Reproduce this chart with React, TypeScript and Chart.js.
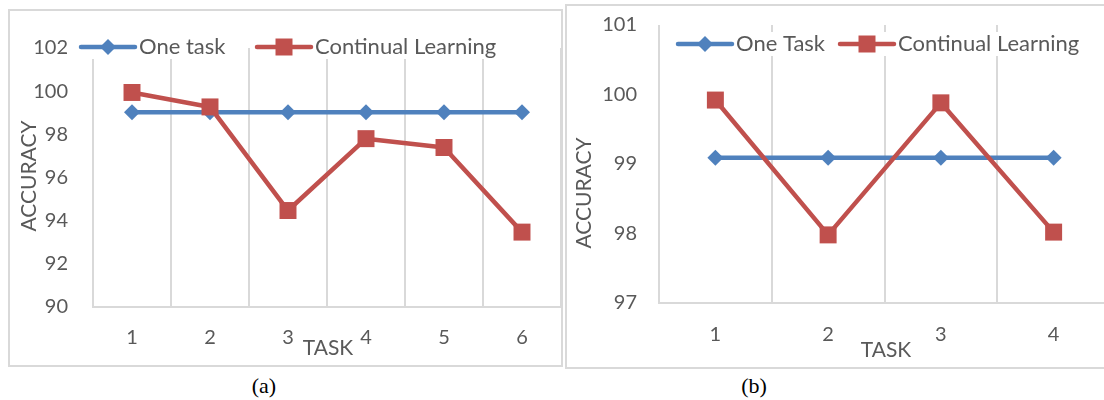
import React, { useEffect, useRef } from 'react';
import { Chart, registerables } from 'chart.js';

Chart.register(...registerables);

// ---------- data ----------
const tasksA = ['1', '2', '3', '4', '5', '6'];
const oneTaskA = [99.02, 99.02, 99.02, 99.02, 99.02, 99.02];
const continualA = [99.94, 99.27, 94.47, 97.8, 97.39, 93.47];
const yTicksA = [90, 92, 94, 96, 98, 100, 102];
const legendA = ['One task', 'Continual Learning'];

const tasksB = ['1', '2', '3', '4'];
const oneTaskB = [99.09, 99.09, 99.09, 99.09];
const continualB = [99.92, 97.98, 99.88, 98.02];
const yTicksB = [97, 98, 99, 100, 101];
const legendB = ['One Task', 'Continual Learning'];

const yTitle = 'ACCURACY';
const xTitle = 'TASK';
const captions = ['(a)', '(b)'];

// ---------- style ----------
const FONT = 'Lato, "Open Sans", sans-serif';
const TEXT = '#595959';
const BLUE = '#4F81BD';
const RED = '#C0504D';
const GRID = '#D9D9D9';

type Decor = {
  legendY: number;
  legendX: number[];
  legendFont: number;
  titleFont: number;
  yTitlePos: [number, number];
  xTitlePos: [number, number];
};

function drawMarker(ctx: CanvasRenderingContext2D, kind: 'diamond' | 'square', x: number, y: number, color: string) {
  ctx.fillStyle = color;
  ctx.beginPath();
  if (kind === 'diamond') {
    const r = 8;
    ctx.moveTo(x - r, y);
    ctx.lineTo(x, y - r);
    ctx.lineTo(x + r, y);
    ctx.lineTo(x, y + r);
    ctx.closePath();
  } else {
    const h = 8.5;
    ctx.rect(x - h, y - h, 2 * h, 2 * h);
  }
  ctx.fill();
}

function makeDecor(cfg: Decor, legendLabels: string[]) {
  return {
    id: 'decor',
    afterDraw(chart: any) {
      const ctx: CanvasRenderingContext2D = chart.ctx;
      ctx.save();
      // axis titles
      ctx.fillStyle = TEXT;
      ctx.font = `${cfg.titleFont}px ${FONT}`;
      ctx.textAlign = 'center';
      ctx.textBaseline = 'middle';
      ctx.fillText(xTitle, cfg.xTitlePos[0], cfg.xTitlePos[1]);
      ctx.save();
      ctx.translate(cfg.yTitlePos[0], cfg.yTitlePos[1]);
      ctx.rotate(-Math.PI / 2);
      ctx.fillText(yTitle, 0, 0);
      ctx.restore();
      // legend
      ctx.font = `${cfg.legendFont}px ${FONT}`;
      const colors = [BLUE, RED];
      const kinds: ('diamond' | 'square')[] = ['diamond', 'square'];
      const y = cfg.legendY;
      legendLabels.forEach((label, i) => {
        const x0 = cfg.legendX[i];
        const x1 = x0 + 54;
        const tx = x1 + 4;
        const tw = ctx.measureText(label).width;
        ctx.fillStyle = '#ffffff';
        ctx.fillRect(x0 - 2, y - 12, tx + tw + 4 - x0, 24);
        ctx.strokeStyle = colors[i];
        ctx.lineWidth = 4.5;
        ctx.lineCap = 'round';
        ctx.beginPath();
        ctx.moveTo(x0, y);
        ctx.lineTo(x1, y);
        ctx.stroke();
        drawMarker(ctx, kinds[i], (x0 + x1) / 2, y, colors[i]);
        ctx.fillStyle = TEXT;
        ctx.textAlign = 'left';
        ctx.textBaseline = 'middle';
        ctx.fillText(label, tx, y);
      });
      ctx.restore();
    },
  };
}

type Props = {
  left: number;
  top: number;
  width: number;
  height: number;
  labels: string[];
  oneTask: number[];
  continual: number[];
  yTicks: number[];
  legendLabels: string[];
  areaTop: number;
  areaBottom: number;
  areaRight: number;
  yPad: number;
  xPad: number;
  decor: Decor;
};

function LineChart(p: Props) {
  const ref = useRef<HTMLCanvasElement | null>(null);
  useEffect(() => {
    if (!ref.current) return;
    const xAxisHeight = p.height - p.areaBottom;
    const chart = new Chart(ref.current, {
      type: 'line',
      data: {
        labels: p.labels,
        datasets: [
          {
            label: p.legendLabels[1],
            data: p.continual,
            borderColor: RED,
            backgroundColor: RED,
            borderWidth: 4.5,
            pointStyle: 'rect',
            pointRadius: 12,
            pointBorderWidth: 0,
            pointBackgroundColor: RED,
            borderJoinStyle: 'round',
            borderCapStyle: 'round',
            tension: 0,
          },
          {
            label: p.legendLabels[0],
            data: p.oneTask,
            borderColor: BLUE,
            backgroundColor: BLUE,
            borderWidth: 4.5,
            pointStyle: 'rectRot',
            pointRadius: 8,
            pointBorderWidth: 0,
            pointBackgroundColor: BLUE,
            borderJoinStyle: 'round',
            borderCapStyle: 'round',
            tension: 0,
          },
        ],
      },
      options: {
        animation: false,
        responsive: false,
        events: [],
        layout: {
          autoPadding: false,
          padding: { left: 0, right: p.width - p.areaRight, top: p.areaTop, bottom: 0 },
        },
        plugins: {
          legend: { display: false },
          tooltip: { enabled: false },
          title: { display: false },
        },
        scales: {
          x: {
            type: 'category',
            offset: true,
            grid: { offset: true, color: GRID, lineWidth: 2, drawTicks: false },
            border: { display: true, color: GRID, width: 2 },
            ticks: {
              color: TEXT,
              font: { family: FONT, size: 20 },
              padding: p.xPad,
              maxRotation: 0,
              autoSkip: false,
            },
            afterFit: (s: any) => {
              s.height = xAxisHeight;
              s.paddingLeft = 0;
              s.paddingRight = 0;
            },
          },
          y: {
            min: p.yTicks[0],
            max: p.yTicks[p.yTicks.length - 1],
            grid: { display: false, drawTicks: false },
            border: { display: false },
            ticks: {
              stepSize: p.yTicks[1] - p.yTicks[0],
              color: TEXT,
              font: { family: FONT, size: 20 },
              padding: p.yPad,
            },
            afterFit: (s: any) => {
              s.width = 93;
              s.paddingTop = 0;
              s.paddingBottom = 0;
            },
          },
        },
      },
      plugins: [makeDecor(p.decor, p.legendLabels)],
    } as any);
    return () => chart.destroy();
  }, []);
  return (
    <canvas
      ref={ref}
      width={p.width}
      height={p.height}
      style={{ position: 'absolute', left: p.left, top: p.top, width: p.width, height: p.height }}
    />
  );
}

export default function App() {
  const frame = (left: number, top: number, width: number, height: number) => ({
    position: 'absolute' as const,
    left,
    top,
    width,
    height,
    boxSizing: 'border-box' as const,
    border: `2px solid ${GRID}`,
  });
  const caption = (cx: number) => ({
    position: 'absolute' as const,
    left: cx - 40,
    width: 80,
    top: 374,
    textAlign: 'center' as const,
    fontFamily: '"Liberation Serif", "Times New Roman", serif',
    fontSize: 22,
    lineHeight: '24px',
    color: '#000',
  });
  return (
    <div
      style={{
        position: 'absolute',
        left: 0,
        top: 0,
        width: 1104,
        height: 400,
        overflow: 'hidden',
        background: '#ffffff',
      }}
    >
      <div style={frame(8, 9, 555, 358)} />
      <div style={frame(565, 4, 600, 365)} />
      <LineChart
        left={0}
        top={0}
        width={562}
        height={370}
        labels={tasksA}
        oneTask={oneTaskA}
        continual={continualA}
        yTicks={yTicksA}
        legendLabels={legendA}
        areaTop={48}
        areaBottom={307}
        areaRight={561}
        yPad={25}
        xPad={19}
        decor={{
          legendY: 47,
          legendX: [81, 257],
          legendFont: 22,
          titleFont: 21,
          yTitlePos: [29, 176],
          xTitlePos: [328, 348],
        }}
      />
      <LineChart
        left={566}
        top={0}
        width={550}
        height={372}
        labels={tasksB}
        oneTask={oneTaskB}
        continual={continualB}
        yTicks={yTicksB}
        legendLabels={legendB}
        areaTop={25}
        areaBottom={303}
        areaRight={544}
        yPad={22}
        xPad={20}
        decor={{
          legendY: 44,
          legendX: [112, 274],
          legendFont: 22,
          titleFont: 21,
          yTitlePos: [18, 193],
          xTitlePos: [320, 350],
        }}
      />
      <div style={caption(264)}>{captions[0]}</div>
      <div style={caption(754)}>{captions[1]}</div>
    </div>
  );
}
